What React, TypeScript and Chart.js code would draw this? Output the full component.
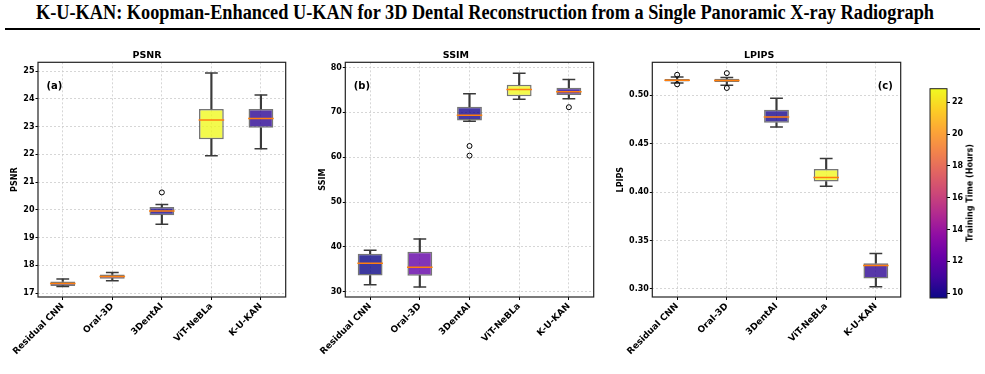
import React, { useEffect, useRef } from 'react';
import { Chart, registerables } from 'chart.js';

Chart.register(...registerables);
Chart.defaults.font.family = '"DejaVu Sans", sans-serif';

// ---------------- data ----------------
const categories = ['Residual CNN', 'Oral-3D', '3DentAI', 'ViT-NeBLa', 'K-U-KAN'];
const trainingHours = [9.7, 12.1, 10.0, 22.86, 10.5];
const hoursRange = [9.7, 22.86];
const colorbarTicks = [10, 12, 14, 16, 18, 20, 22];

const psnrLow = [17.24, 17.45, 19.48, 21.95, 22.2];
const psnrQ1 = [17.26, 17.52, 19.81, 22.55, 22.96];
const psnrMedian = [17.35, 17.6, 19.96, 23.24, 23.29];
const psnrQ3 = [17.42, 17.67, 20.1, 23.64, 23.64];
const psnrHigh = [17.51, 17.74, 20.19, 24.93, 24.14];
const psnrOutliers = [{ x: '3DentAI', y: 20.63 }];
const psnrTicks = [17, 18, 19, 20, 21, 22, 23, 24, 25];

const ssimLow = [31.6, 31.1, 68.03, 72.9, 73.05];
const ssimQ1 = [33.62, 33.6, 68.17, 73.57, 73.86];
const ssimMedian = [36.35, 35.5, 69.36, 75.1, 74.6];
const ssimQ3 = [38.49, 38.93, 71.27, 76.15, 75.5];
const ssimHigh = [39.24, 41.8, 74.15, 78.7, 77.33];
const ssimOutliers = [
  { x: '3DentAI', y: 62.5 },
  { x: '3DentAI', y: 60.35 },
  { x: 'K-U-KAN', y: 71.14 },
];
const ssimTicks = [30, 40, 50, 60, 70, 80];

const lpipsLow = [0.5126, 0.5102, 0.4672, 0.4061, 0.3024];
const lpipsQ1 = [0.5143, 0.5136, 0.4716, 0.4109, 0.3109];
const lpipsMedian = [0.5155, 0.5153, 0.4775, 0.415, 0.3242];
const lpipsQ3 = [0.5167, 0.517, 0.485, 0.4238, 0.3266];
const lpipsHigh = [0.5187, 0.5184, 0.4969, 0.4348, 0.3365];
const lpipsOutliers = [
  { x: 'Residual CNN', y: 0.5211 },
  { x: 'Residual CNN', y: 0.5113 },
  { x: 'Oral-3D', y: 0.5228 },
  { x: 'Oral-3D', y: 0.5075 },
];
const lpipsTicks = [0.3, 0.35, 0.4, 0.45, 0.5];

// ---------------- colormap ----------------
const plasmaStops = [
  '#0d0887', '#41049d', '#6a00a8', '#8f0da4', '#b12a90', '#cc4778',
  '#e16462', '#f2844b', '#fca636', '#fcce25', '#f0f921',
];
function hexToRgb(h: string) {
  return [parseInt(h.slice(1, 3), 16), parseInt(h.slice(3, 5), 16), parseInt(h.slice(5, 7), 16)];
}
function plasma(t: number) {
  const c = Math.max(0, Math.min(1, t)) * (plasmaStops.length - 1);
  const i = Math.min(Math.floor(c), plasmaStops.length - 2);
  const f = c - i;
  const a = hexToRgb(plasmaStops[i]);
  const b = hexToRgb(plasmaStops[i + 1]);
  return a.map((v, k) => Math.round(v + (b[k] - v) * f));
}
function boxFill(h: number) {
  const t = (h - hoursRange[0]) / (hoursRange[1] - hoursRange[0]);
  const [r, g, b] = plasma(t);
  return `rgba(${r},${g},${b},0.8)`;
}

// ---------------- panels ----------------
const panels = [
  {
    title: 'PSNR', tag: '(a)', tagAlign: 'left',
    low: psnrLow, q1: psnrQ1, median: psnrMedian, q3: psnrQ3, high: psnrHigh, outliers: psnrOutliers,
    ticks: psnrTicks, yMin: 16.86, yMax: 25.32, decimals: 0,
    left: 0, width: 300, yWidth: 38, yTitlePad: 9.7, rightPad: 6,
  },
  {
    title: 'SSIM', tag: '(b)', tagAlign: 'left',
    low: ssimLow, q1: ssimQ1, median: ssimMedian, q3: ssimQ3, high: ssimHigh, outliers: ssimOutliers,
    ticks: ssimTicks, yMin: 28.85, yMax: 81.15, decimals: 0,
    left: 310, width: 298, yWidth: 35.3, yTitlePad: 8.2, rightPad: 6.3,
  },
  {
    title: 'LPIPS', tag: '(c)', tagAlign: 'right',
    low: lpipsLow, q1: lpipsQ1, median: lpipsMedian, q3: lpipsQ3, high: lpipsHigh, outliers: lpipsOutliers,
    ticks: lpipsTicks, yMin: 0.2917, yMax: 0.534, decimals: 2,
    left: 610, width: 305, yWidth: 42.3, yTitlePad: 6.2, rightPad: 6.7,
  },
];

const CANVAS_TOP = 48;
const CANVAS_H = 326;

function makeFramePlugin(tag: string, align: string) {
  return {
    id: 'frame',
    afterDatasetsDraw(chart: any) {
      const { ctx, chartArea } = chart;
      const { left, top, right, bottom } = chartArea;
      ctx.save();
      ctx.strokeStyle = '#222';
      ctx.lineWidth = 1.2;
      ctx.strokeRect(left, top, right - left, bottom - top);
      ctx.font = 'bold 10px "DejaVu Sans"';
      ctx.fillStyle = '#000';
      ctx.textBaseline = 'middle';
      ctx.textAlign = align as CanvasTextAlign;
      ctx.fillText(tag, align === 'left' ? left + 8.5 : right - 8, top + 24.5);
      ctx.restore();
    },
  };
}

function buildConfig(p: any): any {
  const fills = trainingHours.map(boxFill);
  const whisker = {
    type: 'bar', backgroundColor: '#3a3a3a', borderWidth: 0, barThickness: 1.5, grouped: false, order: 6,
  };
  const cap = {
    type: 'line', showLine: false, pointStyle: 'line', pointRadius: 6.4, pointHoverRadius: 6.4,
    pointBorderColor: '#3a3a3a', pointBorderWidth: 1.5, order: 3,
  };
  return {
    type: 'bar',
    data: {
      labels: categories,
      datasets: [
        { ...whisker, data: p.low.map((v: number, i: number) => [v, p.q1[i]]) },
        { ...whisker, data: p.high.map((v: number, i: number) => [p.q3[i], v]) },
        {
          type: 'bar', data: p.q1.map((v: number, i: number) => [v, p.q3[i]]),
          backgroundColor: fills, borderColor: 'rgba(60,60,60,0.7)', borderWidth: 1.5, borderSkipped: false,
          barPercentage: 0.5, categoryPercentage: 1, grouped: false, order: 5,
        },
        {
          type: 'line', data: p.median, showLine: false, pointStyle: 'line', pointRadius: 12.8,
          pointHoverRadius: 12.8, pointBorderColor: '#ff7f0e', pointBorderWidth: 1.5, order: 4,
        },
        { ...cap, data: p.low },
        { ...cap, data: p.high },
        {
          type: 'line', data: p.outliers, showLine: false, pointStyle: 'circle', pointRadius: 2.5,
          pointHoverRadius: 2.5, pointBackgroundColor: 'rgba(0,0,0,0)', pointBorderColor: '#000',
          pointBorderWidth: 1, order: 1,
        },
      ],
    },
    options: {
      animation: false,
      responsive: false,
      maintainAspectRatio: false,
      events: [],
      layout: { padding: { left: 0, right: p.rightPad, top: 0, bottom: 0 } },
      plugins: {
        legend: { display: false },
        tooltip: { enabled: false },
        title: {
          display: true, text: p.title, color: '#000',
          font: { size: 9.5, weight: 'bold', lineHeight: '12px' },
          padding: { top: 0, bottom: 1 },
        },
      },
      scales: {
        x: {
          offset: true,
          grid: {
            offset: false, color: '#cccccc', lineWidth: 0.8, tickLength: 3, tickColor: '#000',
            tickWidth: 1, tickBorderDash: [],
          },
          border: { display: false, dash: [2, 2] },
          ticks: {
            autoSkip: false, minRotation: 45, maxRotation: 45, color: '#000', padding: 1,
            font: { size: 9, weight: 'bold' },
          },
          afterFit: (s: any) => { s.height = 77; },
        },
        y: {
          min: p.yMin, max: p.yMax,
          afterBuildTicks: (s: any) => { s.ticks = p.ticks.map((v: number) => ({ value: v })); },
          afterFit: (s: any) => { s.width = p.yWidth; },
          grid: {
            color: '#cccccc', lineWidth: 0.8, tickLength: 2.5, tickColor: '#000', tickWidth: 1,
            tickBorderDash: [],
          },
          border: { display: false, dash: [2, 2] },
          ticks: {
            color: '#000', padding: 1, font: { size: 8, weight: 'bold' },
            callback: (v: any) => Number(v).toFixed(p.decimals),
          },
          title: {
            display: true, text: p.title, color: '#000', font: { size: 8, weight: 'bold' },
            padding: { top: p.yTitlePad, bottom: 0 },
          },
        },
      },
    },
    plugins: [makeFramePlugin(p.tag, p.tagAlign)],
  };
}

function BoxPanel({ p }: { p: any }) {
  const ref = useRef<HTMLCanvasElement | null>(null);
  useEffect(() => {
    const chart = new Chart(ref.current as HTMLCanvasElement, buildConfig(p));
    return () => chart.destroy();
  }, []);
  return (
    <canvas
      ref={ref}
      width={p.width}
      height={CANVAS_H}
      style={{ position: 'absolute', left: p.left, top: CANVAS_TOP, width: p.width, height: CANVAS_H }}
    />
  );
}

const colorbarPlugin = {
  id: 'colorbar',
  beforeDatasetsDraw(chart: any) {
    const { ctx, chartArea, scales } = chart;
    const { left, top, right, bottom } = chartArea;
    const y = scales.y;
    const g = ctx.createLinearGradient(0, y.getPixelForValue(hoursRange[0]), 0, y.getPixelForValue(hoursRange[1]));
    plasmaStops.forEach((c, i) => g.addColorStop(i / (plasmaStops.length - 1), c));
    ctx.save();
    ctx.fillStyle = g;
    ctx.fillRect(left, top, right - left, bottom - top);
    ctx.strokeStyle = '#222';
    ctx.lineWidth = 1;
    ctx.strokeRect(left, top, right - left, bottom - top);
    ctx.restore();
  },
};

function Colorbar() {
  const ref = useRef<HTMLCanvasElement | null>(null);
  useEffect(() => {
    const chart = new Chart(ref.current as HTMLCanvasElement, {
      type: 'bar',
      data: { labels: [''], datasets: [] },
      options: {
        animation: false,
        responsive: false,
        maintainAspectRatio: false,
        events: [],
        layout: { padding: { left: 5, right: 0, top: 8.7, bottom: 12 } },
        plugins: { legend: { display: false }, tooltip: { enabled: false } },
        scales: {
          x: { display: false },
          y: {
            position: 'right',
            min: hoursRange[0], max: hoursRange[1],
            afterBuildTicks: (s: any) => { s.ticks = colorbarTicks.map((v) => ({ value: v })); },
            afterFit: (s: any) => { s.width = 38; },
            grid: { drawOnChartArea: false, drawTicks: true, tickLength: 3, tickColor: '#000', tickWidth: 1 },
            border: { display: false },
            ticks: { color: '#000', padding: 2, font: { size: 8, weight: 'bold' } },
          },
        },
      } as any,
      plugins: [colorbarPlugin],
    });
    return () => chart.destroy();
  }, []);
  return (
    <canvas
      ref={ref}
      width={60}
      height={230}
      style={{ position: 'absolute', left: 925, top: 80, width: 60, height: 230 }}
    />
  );
}

export default function App() {
  return (
    <div style={{ position: 'fixed', left: 0, top: 0, width: 985, height: 374, background: '#fff', overflow: 'hidden' }}>
      <svg width={985} height={30} style={{ position: 'absolute', left: 0, top: 0 }}>
        <text
          x={36}
          y={19}
          textLength={898}
          lengthAdjust="spacingAndGlyphs"
          fontFamily='"Liberation Serif", "Times New Roman", serif'
          fontWeight="bold"
          fontSize={20}
          fill="#000"
        >
          K-U-KAN: Koopman-Enhanced U-KAN for 3D Dental Reconstruction from a Single Panoramic X-ray Radiograph
        </text>
      </svg>
      <div style={{ position: 'absolute', left: 5, top: 28, width: 975, height: 2, background: '#000' }} />
      {panels.map((p) => (
        <BoxPanel key={p.title} p={p} />
      ))}
      <Colorbar />
      <div
        style={{
          position: 'absolute', left: 970, top: 193, width: 0, height: 0,
        }}
      >
        <div
          style={{
            position: 'absolute', left: 0, top: 0, transform: 'translate(-50%, -50%) rotate(-90deg)',
            whiteSpace: 'nowrap', font: 'bold 8px "DejaVu Sans"', color: '#000',
          }}
        >
          Training Time (Hours)
        </div>
      </div>
    </div>
  );
}
